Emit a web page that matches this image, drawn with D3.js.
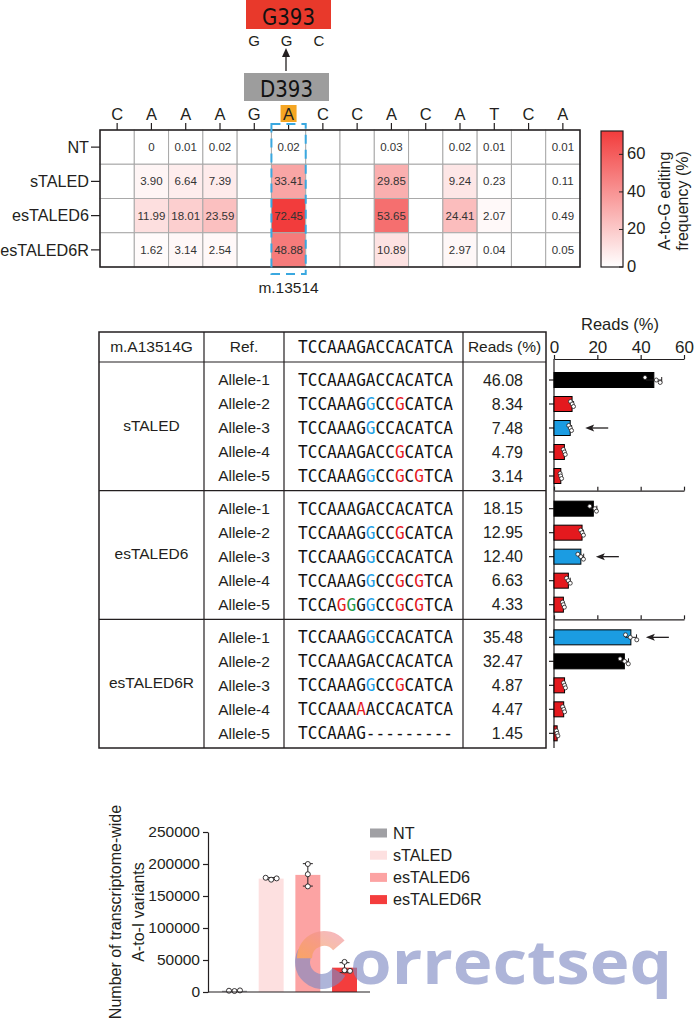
<!DOCTYPE html>
<html>
<head>
<meta charset="utf-8">
<script src="https://cdn.jsdelivr.net/npm/d3@7"></script>
<style>
  body { margin: 0; background: #fff; }
  text { font-family: "Liberation Sans", Arial, sans-serif; fill: #231f20; }
</style>
</head>
<body>
<svg id="chart" width="695" height="1020"></svg>
<script>
// ---- heatmap data ----
var seqLetters = ["C","A","A","A","G","A","C","C","A","C","A","T","C","A"];
var hmRows = ["NT","sTALED","esTALED6","esTALED6R"];
var hmCols = [1, 2, 3, 5, 8, 10, 11, 13]; // positions that carry a value
var hmNT = [0, 0.01, 0.02, 0.02, 0.03, 0.02, 0.01, 0.01];
var hmSTALED = [3.90, 6.64, 7.39, 33.41, 29.85, 9.24, 0.23, 0.11];
var hmES6 = [11.99, 18.01, 23.59, 72.45, 53.65, 24.41, 2.07, 0.49];
var hmES6R = [1.62, 3.14, 2.54, 48.88, 10.89, 2.97, 0.04, 0.05];
var colorTicks = [0, 20, 40, 60];
var targetCol = 5;
var codon = ["G","G","C"];

// ---- allele table data ----
var groups = ["sTALED","esTALED6","esTALED6R"];
var alleles = ["Allele-1","Allele-2","Allele-3","Allele-4","Allele-5"];
var refSeq = "TCCAAAGACCACATCA";
var seqSTALED = ["TCCAAAGACCACATCA","TCCAAAGGCCGCATCA","TCCAAAGGCCACATCA","TCCAAAGACCGCATCA","TCCAAAGGCCGCGTCA"];
var seqES6 = ["TCCAAAGACCACATCA","TCCAAAGGCCGCATCA","TCCAAAGGCCACATCA","TCCAAAGGCCGCGTCA","TCCAGGGGCCGCGTCA"];
var seqES6R = ["TCCAAAGGCCACATCA","TCCAAAGACCACATCA","TCCAAAGGCCGCATCA","TCCAAAAACCACATCA","TCCAAAG---------"];
// b = target edit, r = bystander edit, g = other edit
var markSTALED = ["................",".......b..r.....",".......b........","..........r.....",".......b..r.r..."];
var markES6 = ["................",".......b..r.....",".......b........",".......b..r.r...","....rg.b..r.r..."];
var markES6R = [".......b........","................",".......b..r.....","......r.........","................"];
var readsSTALED = [46.08, 8.34, 7.48, 4.79, 3.14];
var readsES6 = [18.15, 12.95, 12.40, 6.63, 4.33];
var readsES6R = [35.48, 32.47, 4.87, 4.47, 1.45];
var repSTALED = [[42.0, 47.2, 49.0], [7.6, 8.4, 9.0], [6.8, 7.5, 8.1], [4.3, 4.8, 5.2], [2.8, 3.1, 3.5]];
var repES6 = [[16.5, 18.9, 19.6], [12.3, 13.0, 13.6], [11.0, 12.4, 13.6], [5.8, 6.6, 7.5], [3.9, 4.3, 4.8]];
var repES6R = [[33.0, 35.2, 38.2], [30.5, 32.6, 34.3], [4.4, 4.9, 5.3], [4.0, 4.5, 4.9], [1.1, 1.4, 1.8]];
var classSTALED = ["wt","bystander","target","bystander","bystander"];
var classES6 = ["wt","bystander","target","bystander","bystander"];
var classES6R = ["target","wt","bystander","bystander","bystander"];
var readsTicks = [0, 20, 40, 60];

// ---- transcriptome-wide data ----
var tvGroups = ["NT","sTALED","esTALED6","esTALED6R"];
var tvReps = [[1500, 2500, 2000], [175500, 177500, 178500], [200000, 184000, 165000], [47000, 34000, 33000]];
var tvTicks = [0, 50000, 100000, 150000, 200000, 250000];

var svg = d3.select("#chart");
var ink = "#231f20";
var markColor = { b: "#1b9ce2", r: "#e4191e", g: "#1e9a4a" };
var barColor = { wt: "#000000", target: "#1b9ce2", bystander: "#e4191e" };
var defs = svg.append("defs");

// ================= header: D393 -> G393 =================
var hdr = svg.append("g");
hdr.append("rect").attr("x", 246).attr("y", 0).attr("width", 85).attr("height", 29).attr("fill", "#e8392b");
hdr.append("text").attr("x", 262).attr("y", 25).attr("textLength", 53).attr("lengthAdjust", "spacingAndGlyphs")
  .style("font-family", "'DejaVu Sans', sans-serif").style("font-size", "23px").style("fill", "#111").text("G393");
var cx = d3.scalePoint().domain(d3.range(3)).range([254, 319]);
hdr.selectAll("text.codon").data(codon).enter().append("text").attr("class", "codon")
  .attr("x", function(d, i) { return cx(i); }).attr("y", 46).attr("text-anchor", "middle")
  .style("font-size", "15px").text(function(d) { return d; });
hdr.append("line").attr("x1", 286).attr("x2", 286).attr("y1", 71).attr("y2", 55).attr("stroke", ink).attr("stroke-width", 1.3);
hdr.append("path").attr("d", "M286,48 L282,57 L290,57 Z").attr("fill", ink);
hdr.append("rect").attr("x", 244).attr("y", 73).attr("width", 85).attr("height", 28).attr("fill", "#9d9d9d");
hdr.append("text").attr("x", 260).attr("y", 97).attr("textLength", 53).attr("lengthAdjust", "spacingAndGlyphs")
  .style("font-family", "'DejaVu Sans', sans-serif").style("font-size", "23px").style("fill", "#111").text("D393");

// ================= heatmap =================
var hmValues = [hmNT, hmSTALED, hmES6, hmES6R];
var hx = d3.scaleBand().domain(d3.range(seqLetters.length)).range([100, 580]);
var hy = d3.scaleBand().domain(hmRows).range([130, 267]);
var maxV = d3.max(hmValues, function(r) { return d3.max(r); });
var color = d3.scaleLinear().domain([0, maxV]).range(["#ffffff", "#f23c3c"]);

var cells = [];
hmRows.forEach(function(row, ri) {
  seqLetters.forEach(function(l, ci) {
    var k = hmCols.indexOf(ci);
    cells.push({ row: row, col: ci, v: k >= 0 ? hmValues[ri][k] : null });
  });
});
var hm = svg.append("g");
hm.selectAll("rect.cell").data(cells).enter().append("rect").attr("class", "cell")
  .attr("x", function(d) { return hx(d.col); }).attr("y", function(d) { return hy(d.row); })
  .attr("width", hx.bandwidth()).attr("height", hy.bandwidth())
  .attr("fill", function(d) { return d.v === null ? "#fff" : color(d.v); })
  .attr("stroke", "#a9a9a9").attr("stroke-width", 1);
hm.selectAll("text.val").data(cells.filter(function(d) { return d.v !== null; })).enter().append("text")
  .attr("class", "val")
  .attr("x", function(d) { return hx(d.col) + hx.bandwidth() / 2; })
  .attr("y", function(d) { return hy(d.row) + hy.bandwidth() / 2; })
  .attr("dy", "0.35em").attr("text-anchor", "middle").style("font-size", "11.5px").style("fill", "#333")
  .text(function(d) { return d.v === 0 ? "0" : d3.format(".2f")(d.v); });
hm.append("rect").attr("x", 100).attr("y", 130).attr("width", 480).attr("height", 137)
  .attr("fill", "none").attr("stroke", ink).attr("stroke-width", 1.5);

// sequence letters along the top
hm.append("rect").attr("x", hx(targetCol) + hx.bandwidth() / 2 - 8).attr("y", 105)
  .attr("width", 16).attr("height", 17).attr("fill", "#f5a623");
hm.selectAll("text.base").data(seqLetters).enter().append("text").attr("class", "base")
  .attr("x", function(d, i) { return hx(i) + hx.bandwidth() / 2; }).attr("y", 120)
  .attr("text-anchor", "middle").style("font-size", "16.5px").text(function(d) { return d; });
hm.selectAll("line.tt").data(seqLetters).enter().append("line").attr("class", "tt")
  .attr("x1", function(d, i) { return hx(i) + hx.bandwidth() / 2; })
  .attr("x2", function(d, i) { return hx(i) + hx.bandwidth() / 2; })
  .attr("y1", 123).attr("y2", 130).attr("stroke", ink).attr("stroke-width", 1.2);

// row labels
hm.selectAll("text.rl").data(hmRows).enter().append("text").attr("class", "rl")
  .attr("x", 89).attr("y", function(d) { return hy(d) + hy.bandwidth() / 2; }).attr("dy", "0.35em")
  .attr("text-anchor", "end").style("font-size", "16.2px").text(function(d) { return d; });
hm.selectAll("line.rt").data(hmRows).enter().append("line").attr("class", "rt")
  .attr("x1", 91).attr("x2", 100)
  .attr("y1", function(d) { return hy(d) + hy.bandwidth() / 2; })
  .attr("y2", function(d) { return hy(d) + hy.bandwidth() / 2; })
  .attr("stroke", ink).attr("stroke-width", 1.2);

// dashed target box
hm.append("rect").attr("x", hx(targetCol)).attr("y", 124).attr("width", hx.bandwidth()).attr("height", 150)
  .attr("fill", "none").attr("stroke", "#3aa8e0").attr("stroke-width", 2).attr("stroke-dasharray", "9,6");
hm.append("text").attr("x", hx(targetCol) + hx.bandwidth() / 2).attr("y", 293).attr("text-anchor", "middle")
  .style("font-size", "15.5px").text("m.13514");

// colour bar
var grad = defs.append("linearGradient").attr("id", "hmgrad").attr("x1", 0).attr("y1", 1).attr("x2", 0).attr("y2", 0);
grad.append("stop").attr("offset", "0%").attr("stop-color", color(0));
grad.append("stop").attr("offset", "100%").attr("stop-color", color(maxV));
var cy = d3.scaleLinear().domain([0, maxV]).range([267, 131]);
var cb = svg.append("g");
cb.append("rect").attr("x", 601).attr("y", 131).attr("width", 22).attr("height", 136)
  .attr("fill", "url(#hmgrad)").attr("stroke", ink).attr("stroke-width", 1.2);
cb.selectAll("line.ct").data(colorTicks).enter().append("line").attr("class", "ct")
  .attr("x1", 619).attr("x2", 623).attr("y1", function(d) { return cy(d); }).attr("y2", function(d) { return cy(d); })
  .attr("stroke", ink);
cb.selectAll("text.cl").data(colorTicks).enter().append("text").attr("class", "cl")
  .attr("x", 627).attr("y", function(d) { return cy(d) - 1; }).attr("dy", "0.35em")
  .style("font-size", "16.5px").text(function(d) { return d; });
cb.append("text").attr("transform", "translate(670,201) rotate(-90)").attr("text-anchor", "middle")
  .style("font-size", "16px").text("A-to-G editing");
cb.append("text").attr("transform", "translate(688,201) rotate(-90)").attr("text-anchor", "middle")
  .style("font-size", "16px").text("frequency (%)");

// ================= allele table =================
var seqs = [seqSTALED, seqES6, seqES6R];
var marks = [markSTALED, markES6, markES6R];
var reads = [readsSTALED, readsES6, readsES6R];
var reps = [repSTALED, repES6, repES6R];
var classes = [classSTALED, classES6, classES6R];

var gy = d3.scaleBand().domain(groups).range([362, 748]);
var ry = d3.scaleBand().domain(d3.range(alleles.length)).range([6, 126]);
function rowY(gi, ai) { return gy(groups[gi]) + ry(ai) + ry.bandwidth() / 2; }
var colX = [99, 204, 284, 463, 546];
var seqX = 298, seqW = 155;

var tb = svg.append("g");
tb.append("rect").attr("x", colX[0]).attr("y", 332).attr("width", colX[4] - colX[0]).attr("height", 748 - 332)
  .attr("fill", "none").attr("stroke", ink).attr("stroke-width", 1.5);
tb.selectAll("line.vc").data(colX.slice(1, 4)).enter().append("line").attr("class", "vc")
  .attr("x1", function(d) { return d; }).attr("x2", function(d) { return d; })
  .attr("y1", 332).attr("y2", 748).attr("stroke", ink).attr("stroke-width", 1.2);
tb.selectAll("line.hr").data([362].concat(groups.slice(1).map(function(g) { return gy(g); }))).enter()
  .append("line").attr("class", "hr")
  .attr("x1", colX[0]).attr("x2", colX[4]).attr("y1", function(d) { return d; }).attr("y2", function(d) { return d; })
  .attr("stroke", ink).attr("stroke-width", 1.2);

// header
tb.append("text").attr("x", (colX[0] + colX[1]) / 2).attr("y", 347).attr("dy", "0.35em").attr("text-anchor", "middle")
  .style("font-size", "15.5px").text("m.A13514G");
tb.append("text").attr("x", (colX[1] + colX[2]) / 2).attr("y", 347).attr("dy", "0.35em").attr("text-anchor", "middle")
  .style("font-size", "15.5px").text("Ref.");
tb.append("text").attr("x", (colX[3] + colX[4]) / 2).attr("y", 347).attr("dy", "0.35em").attr("text-anchor", "middle")
  .style("font-size", "15.5px").text("Reads (%)");

// one text per sequence, coloured bases as tspans
function drawSeq(str, mk, y) {
  var t = tb.append("text").attr("x", seqX).attr("y", y).attr("dy", "0.36em")
    .attr("textLength", seqW).attr("lengthAdjust", "spacingAndGlyphs")
    .style("font-family", "'DejaVu Sans Mono', monospace").style("font-size", "17px");
  t.selectAll("tspan").data(str.split("")).enter().append("tspan")
    .style("fill", function(d, i) { return mk && mk[i] !== "." ? markColor[mk[i]] : "#111"; })
    .text(function(d) { return d; });
}
drawSeq(refSeq, null, 347);

groups.forEach(function(g, gi) {
  tb.append("text").attr("x", (colX[0] + colX[1]) / 2).attr("y", gy(g) + gy.bandwidth() / 2 - 1).attr("dy", "0.35em")
    .attr("text-anchor", "middle").style("font-size", "15.5px").text(g);
  alleles.forEach(function(a, ai) {
    var y = rowY(gi, ai);
    tb.append("text").attr("x", (colX[1] + colX[2]) / 2).attr("y", y).attr("dy", "0.35em")
      .attr("text-anchor", "middle").style("font-size", "15.5px").text(a);
    drawSeq(seqs[gi][ai], marks[gi][ai], y);
    tb.append("text").attr("x", 523).attr("y", y).attr("dy", "0.35em")
      .attr("text-anchor", "end").style("font-size", "16px").text(d3.format(".2f")(reads[gi][ai]));
  });
});

// ================= reads bar chart =================
var xr = d3.scaleLinear().domain([0, 60]).range([554, 684]);
var bc = svg.append("g");
bc.append("g").attr("transform", "translate(0,359)")
  .call(d3.axisTop(xr).tickValues(readsTicks).tickSize(4).tickSizeOuter(0))
  .call(function(g) {
    g.select(".domain").attr("stroke", ink).attr("stroke-width", 1.2);
    g.selectAll(".tick line").attr("stroke", ink).attr("stroke-width", 1.2);
    g.selectAll(".tick text").attr("y", -6).style("font-size", "17px").style("font-family", "'Liberation Sans', Arial, sans-serif").attr("fill", ink);
  });
bc.append("text").attr("x", 620).attr("y", 330).attr("text-anchor", "middle").style("font-size", "16.5px").text("Reads (%)");
groups.slice(1).forEach(function(g) {
  bc.append("g").attr("transform", "translate(0," + gy(g) + ")")
    .call(d3.axisTop(xr).tickValues(readsTicks).tickSize(4).tickSizeOuter(0).tickFormat(""))
    .call(function(s) {
      s.select(".domain").attr("stroke", ink).attr("stroke-width", 1.2);
      s.selectAll(".tick line").attr("stroke", ink).attr("stroke-width", 1.2);
    });
});
bc.append("line").attr("x1", xr(0)).attr("x2", xr(0)).attr("y1", 359).attr("y2", 748).attr("stroke", ink).attr("stroke-width", 1.2);

groups.forEach(function(g, gi) {
  alleles.forEach(function(a, ai) {
    var y = rowY(gi, ai);
    var v = reads[gi][ai], r = reps[gi][ai];
    var sd = d3.deviation(r);
    bc.append("line").attr("x1", xr(0) - 5).attr("x2", xr(0)).attr("y1", y).attr("y2", y).attr("stroke", ink).attr("stroke-width", 1.2);
    bc.append("rect").attr("x", xr(0)).attr("y", y - 7.5).attr("width", xr(v) - xr(0)).attr("height", 15)
      .attr("fill", barColor[classes[gi][ai]]).attr("stroke", "#000").attr("stroke-width", 1);
    bc.append("line").attr("x1", xr(v - sd)).attr("x2", xr(v + sd)).attr("y1", y).attr("y2", y).attr("stroke", ink);
    bc.append("line").attr("x1", xr(v + sd)).attr("x2", xr(v + sd)).attr("y1", y - 3).attr("y2", y + 3).attr("stroke", ink);
    bc.selectAll(null).data(r).enter().append("circle")
      .attr("cx", function(d) { return xr(d); }).attr("cy", function(d, i) { return y + (i - 1) * 2.5; }).attr("r", 2)
      .attr("fill", "#fff").attr("stroke", ink).attr("stroke-width", 0.8);
    if (classes[gi][ai] === "target") {
      var x0 = xr(v) + 15;
      bc.append("line").attr("x1", x0 + 3).attr("x2", x0 + 23).attr("y1", y).attr("y2", y).attr("stroke", ink).attr("stroke-width", 1.3);
      bc.append("path").attr("d", "M" + x0 + "," + y + " L" + (x0 + 9) + "," + (y - 3.5) + " L" + (x0 + 7) + "," + y + " L" + (x0 + 9) + "," + (y + 3.5) + " Z").attr("fill", ink);
    }
  });
});

// ================= transcriptome-wide bar chart =================
var tvFill = { "NT": "#a0a0a4", "sTALED": "#fde0e0", "esTALED6": "#fca3a3", "esTALED6R": "#f43d3d" };
var yb = d3.scaleLinear().domain([0, 250000]).range([992, 832]);
var xb = d3.scaleBand().domain(tvGroups).range([211, 368]).paddingInner(0.32).paddingOuter(0.3);
var tv = svg.append("g");
tvGroups.forEach(function(g, i) {
  var r = tvReps[i], m = d3.mean(r), sd = d3.deviation(r);
  var c = xb(g) + xb.bandwidth() / 2;
  tv.append("rect").attr("x", xb(g)).attr("y", yb(m)).attr("width", xb.bandwidth()).attr("height", yb(0) - yb(m))
    .attr("fill", tvFill[g]);
  tv.append("line").attr("x1", c).attr("x2", c).attr("y1", yb(m - sd)).attr("y2", yb(m + sd)).attr("stroke", ink);
  [m - sd, m + sd].forEach(function(e) {
    tv.append("line").attr("x1", c - 5).attr("x2", c + 5).attr("y1", yb(e)).attr("y2", yb(e)).attr("stroke", ink);
  });
  // simple dodge so close points sit side by side
  var pts = r.map(function(d) { return { v: d, y: yb(d), x: c }; });
  pts.forEach(function(p, k) {
    var near = pts.slice(0, k).filter(function(q) { return Math.abs(q.y - p.y) < 5; }).length;
    p.x = c + (near === 0 ? 0 : (near % 2 ? 1 : -1) * 5.5);
  });
  tv.selectAll(null).data(pts).enter().append("circle")
    .attr("cx", function(d) { return d.x; }).attr("cy", function(d) { return d.y; }).attr("r", 2.5)
    .attr("fill", "#fff").attr("stroke", ink).attr("stroke-width", 0.9);
});
tv.append("g").attr("transform", "translate(208,0)")
  .call(d3.axisLeft(yb).tickValues(tvTicks).tickSize(5).tickSizeOuter(0).tickFormat(d3.format("d")))
  .call(function(g) {
    g.select(".domain").attr("stroke", ink).attr("stroke-width", 1.2);
    g.selectAll(".tick line").attr("stroke", ink).attr("stroke-width", 1.2);
    g.selectAll(".tick text").style("font-size", "15.5px").style("font-family", "'Liberation Sans', Arial, sans-serif").attr("fill", ink);
  });
tv.append("line").attr("x1", 208).attr("x2", 370).attr("y1", yb(0)).attr("y2", yb(0)).attr("stroke", ink).attr("stroke-width", 1.2);
tv.append("text").attr("transform", "translate(121,912) rotate(-90)").attr("text-anchor", "middle")
  .style("font-size", "16px").text("Number of transcriptome-wide");
tv.append("text").attr("transform", "translate(144,912) rotate(-90)").attr("text-anchor", "middle")
  .style("font-size", "16px").text("A-to-I variants");

var lg = tv.selectAll("g.leg").data(tvGroups).enter().append("g").attr("class", "leg")
  .attr("transform", function(d, i) { return "translate(370," + (833 + i * 22.2) + ")"; });
lg.append("rect").attr("x", 0).attr("y", -4.5).attr("width", 17).attr("height", 9).attr("fill", function(d) { return tvFill[d]; });
lg.append("text").attr("x", 23).attr("y", 0).attr("dy", "0.35em").style("font-size", "16.2px").text(function(d) { return d; });

// ================= watermark =================
var wm = svg.append("g").attr("opacity", 0.62);
var wgrad = defs.append("linearGradient").attr("id", "wmgrad").attr("x1", 0).attr("y1", 1).attr("x2", 1).attr("y2", 0);
wgrad.append("stop").attr("offset", "0%").attr("stop-color", "#f7a541");
wgrad.append("stop").attr("offset", "100%").attr("stop-color", "#f08aa0");
wm.append("path").attr("transform", "translate(322,962)")
  .attr("d", d3.arc().innerRadius(12).outerRadius(27).startAngle(2.1).endAngle(5.2)())
  .attr("fill", "#7d89c2");
wm.append("path").attr("transform", "translate(324,958)")
  .attr("d", d3.arc().innerRadius(12).outerRadius(27).startAngle(4.7).endAngle(7.15)())
  .attr("fill", "url(#wmgrad)");
wm.append("text").attr("x", 350).attr("y", 984).attr("textLength", 322).attr("lengthAdjust", "spacingAndGlyphs")
  .style("font-family", "'Open Sans', sans-serif").style("font-weight", "bold").style("font-size", "60px")
  .style("fill", "#7d89c2").text("orrectseq");
</script>
</body>
</html>
